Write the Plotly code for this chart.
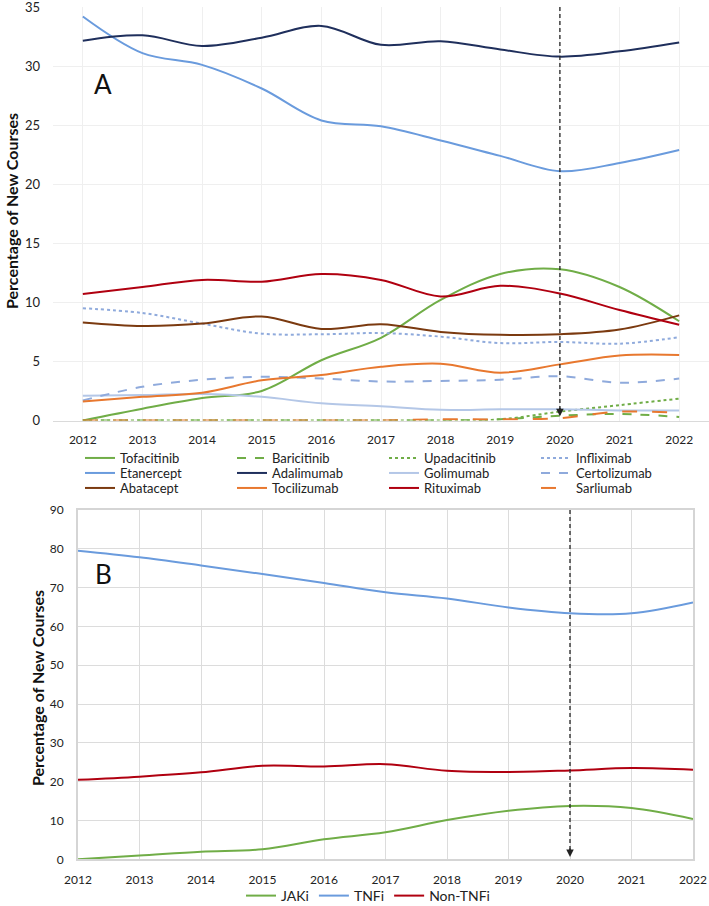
import plotly.graph_objects as go

W, H = 709, 906
years = list(range(2012, 2023))

# Panel A values (% of new courses)
tofacitinib = [0, 1.0, 1.9, 2.5, 5.1, 7.0, 10.2, 12.4, 12.8, 11.3, 8.4]
baricitinib = [0, 0, 0, 0, 0, 0, 0, 0.1, 0.4, 0.55, 0.3]
upadacitinib = [0, 0, 0, 0, 0, 0, 0, 0.1, 0.75, 1.3, 1.85]
infliximab = [9.5, 9.1, 8.2, 7.35, 7.3, 7.4, 7.1, 6.55, 6.65, 6.5, 7.05]
etanercept = [34.2, 31.1, 30.1, 28.1, 25.4, 24.9, 23.7, 22.4, 21.1, 21.8, 22.9]
adalimumab = [32.15, 32.6, 31.7, 32.4, 33.4, 31.8, 32.1, 31.4, 30.8, 31.25, 32.0]
golimumab = [2.1, 2.15, 2.25, 2.0, 1.45, 1.2, 0.9, 0.95, 0.95, 0.85, 0.85]
certolizumab = [1.7, 2.85, 3.45, 3.7, 3.55, 3.3, 3.35, 3.45, 3.75, 3.2, 3.55]
abatacept = [8.3, 8.0, 8.2, 8.8, 7.75, 8.15, 7.5, 7.25, 7.3, 7.7, 8.9]
tocilizumab = [1.6, 2.0, 2.35, 3.4, 3.85, 4.55, 4.8, 4.05, 4.75, 5.5, 5.55]
rituximab = [10.7, 11.3, 11.9, 11.75, 12.4, 11.9, 10.5, 11.4, 10.75, 9.35, 8.1]
sarliumab = [0, 0, 0, 0, 0, 0, 0.1, 0.1, 0.2, 0.75, 0.65]

# Panel B values
jaki = [0, 0.95, 1.95, 2.6, 5.15, 6.95, 10.1, 12.5, 13.75, 13.2, 10.4]
tnfi = [79.5, 77.8, 75.7, 73.5, 71.2, 68.8, 67.2, 64.9, 63.4, 63.4, 66.2]
non_tnfi = [20.5, 21.3, 22.4, 24.1, 23.9, 24.5, 22.8, 22.5, 22.9, 23.5, 23.1]

FONT = "Lato, 'Liberation Sans', sans-serif"
GREEN = "#70AD47"
LBLUE = "#6A9BDD"
NAVY = "#1F2F5C"
PALE = "#B4C7E7"
MBLUE = "#8FAADC"
BROWN = "#7B3A10"
ORANGE = "#E8782F"
RED = "#B00010"

panelA = [
    ("Tofacitinib", tofacitinib, GREEN, "solid", "legend"),
    ("Baricitinib", baricitinib, GREEN, "dash", "legend"),
    ("Upadacitinib", upadacitinib, GREEN, "dot", "legend"),
    ("Infliximab", infliximab, MBLUE, "dot", "legend"),
    ("Etanercept", etanercept, LBLUE, "solid", "legend2"),
    ("Adalimumab", adalimumab, NAVY, "solid", "legend2"),
    ("Golimumab", golimumab, PALE, "solid", "legend2"),
    ("Certolizumab", certolizumab, MBLUE, "dash", "legend2"),
    ("Abatacept", abatacept, BROWN, "solid", "legend3"),
    ("Tocilizumab", tocilizumab, ORANGE, "solid", "legend3"),
    ("Rituximab", rituximab, RED, "solid", "legend3"),
    ("Sarliumab", sarliumab, ORANGE, "longdash", "legend3"),
]

fig = go.Figure()
for name, vals, col, dash, leg in panelA:
    fig.add_trace(go.Scatter(
        x=years, y=vals, name=name, mode="lines",
        line=dict(color=col, width=2, dash=dash, shape="spline"),
        xaxis="x", yaxis="y", legend=leg))

for name, vals, col in [("JAKi", jaki, GREEN), ("TNFi", tnfi, LBLUE), ("Non-TNFi", non_tnfi, RED)]:
    fig.add_trace(go.Scatter(
        x=years, y=vals, name=name, mode="lines",
        line=dict(color=col, width=2, shape="spline"),
        xaxis="x2", yaxis="y2", legend="legend4"))

def px(x):
    return x / W

def py(y):
    return 1 - y / H

tickfont = dict(family=FONT, size=12, color="#222")
common = dict(ticklabeloverflow="allow", ticks="")

fig.update_layout(
    width=W, height=H,
    margin=dict(l=0, r=0, t=0, b=0, autoexpand=False),
    paper_bgcolor="white", plot_bgcolor="white",
    font=dict(family=FONT, size=12, color="#222"),
    xaxis=dict(domain=[px(53), 1.0], range=[2011.5, 2022.5], tickvals=years,
               showgrid=True, gridcolor="#EFEFEF", gridwidth=1, zeroline=False,
               showline=True, linecolor="#DADADA", linewidth=1,
               tickfont=tickfont, ticklabelstandoff=8, anchor="y", **common),
    yaxis=dict(domain=[py(420.5), py(7)], range=[0, 35], dtick=5,
               showgrid=True, gridcolor="#EFEFEF", zeroline=False,
               tickfont=dict(family=FONT, size=13, color="#222"), ticklabelstandoff=12,
               anchor="x", **common),
    xaxis2=dict(domain=[px(78), px(693)], range=[2012, 2022], tickvals=years,
                showgrid=True, gridcolor="#DCDCDC", gridwidth=1, zeroline=False,
                showline=True, mirror=True, linecolor="#D5D5D5", linewidth=2,
                tickfont=tickfont, ticklabelstandoff=8, anchor="y2", **common),
    yaxis2=dict(domain=[py(859.3), py(510)], range=[0, 90], dtick=10,
                showgrid=True, gridcolor="#DCDCDC", zeroline=False,
                showline=True, mirror=True, linecolor="#D5D5D5", linewidth=2,
                tickfont=tickfont, ticklabelstandoff=10, anchor="x2", **common),
)

legfont = dict(family=FONT, size=13, color="#222")
for key, yrow in [("legend", 458), ("legend2", 473), ("legend3", 488)]:
    fig.update_layout({key: dict(
        orientation="h", x=px(80), xanchor="left", y=py(yrow), yanchor="middle",
        entrywidth=107, entrywidthmode="pixels", font=legfont,
        bgcolor="rgba(0,0,0,0)", borderwidth=0, itemwidth=30, tracegroupgap=0)})
fig.update_layout(legend4=dict(
    orientation="h", x=px(368), xanchor="center", y=py(896), yanchor="middle",
    font=dict(family=FONT, size=14, color="#222"), bgcolor="rgba(0,0,0,0)",
    borderwidth=0, itemwidth=30))

# dashed 2020 markers with arrowheads
fig.add_shape(type="line", xref="x", yref="y", x0=2020, x1=2020, y0=35, y1=0.6,
              line=dict(color="#222", width=1.3, dash="4px,3px"))
fig.add_shape(type="line", xref="x2", yref="y2", x0=2020, x1=2020, y0=90, y1=1.2,
              line=dict(color="#222", width=1.3, dash="4px,3px"))
fig.add_annotation(xref="x", yref="y", x=2020, y=0.35, ax=0, ay=-10,
                   text="", showarrow=True, arrowhead=2, arrowsize=1, arrowwidth=1.5, arrowcolor="#222")
fig.add_annotation(xref="x2", yref="y2", x=2020, y=0.6, ax=0, ay=-10,
                   text="", showarrow=True, arrowhead=2, arrowsize=1, arrowwidth=1.5, arrowcolor="#222")

# panel letters
fig.add_annotation(xref="paper", yref="paper", x=px(103), y=py(84), text="A", showarrow=False,
                   font=dict(family=FONT, size=26, color="#111"), xanchor="center", yanchor="middle")
fig.add_annotation(xref="paper", yref="paper", x=px(103), y=py(574), text="B", showarrow=False,
                   font=dict(family=FONT, size=26, color="#111"), xanchor="center", yanchor="middle")

# y-axis titles
fig.add_annotation(xref="paper", yref="paper", x=px(12), y=py(211), text="<b>Percentage of New Courses</b>",
                   textangle=-90, showarrow=False, font=dict(family=FONT, size=16, color="#111"),
                   xanchor="center", yanchor="middle")
fig.add_annotation(xref="paper", yref="paper", x=px(37), y=py(688), text="<b>Percentage of New Courses</b>",
                   textangle=-90, showarrow=False, font=dict(family=FONT, size=16, color="#111"),
                   xanchor="center", yanchor="middle")

fig.write_html(
    "out.html",
    config={"displayModeBar": False},
    post_script="document.body.style.margin='0';document.body.style.overflow='hidden';",
)
